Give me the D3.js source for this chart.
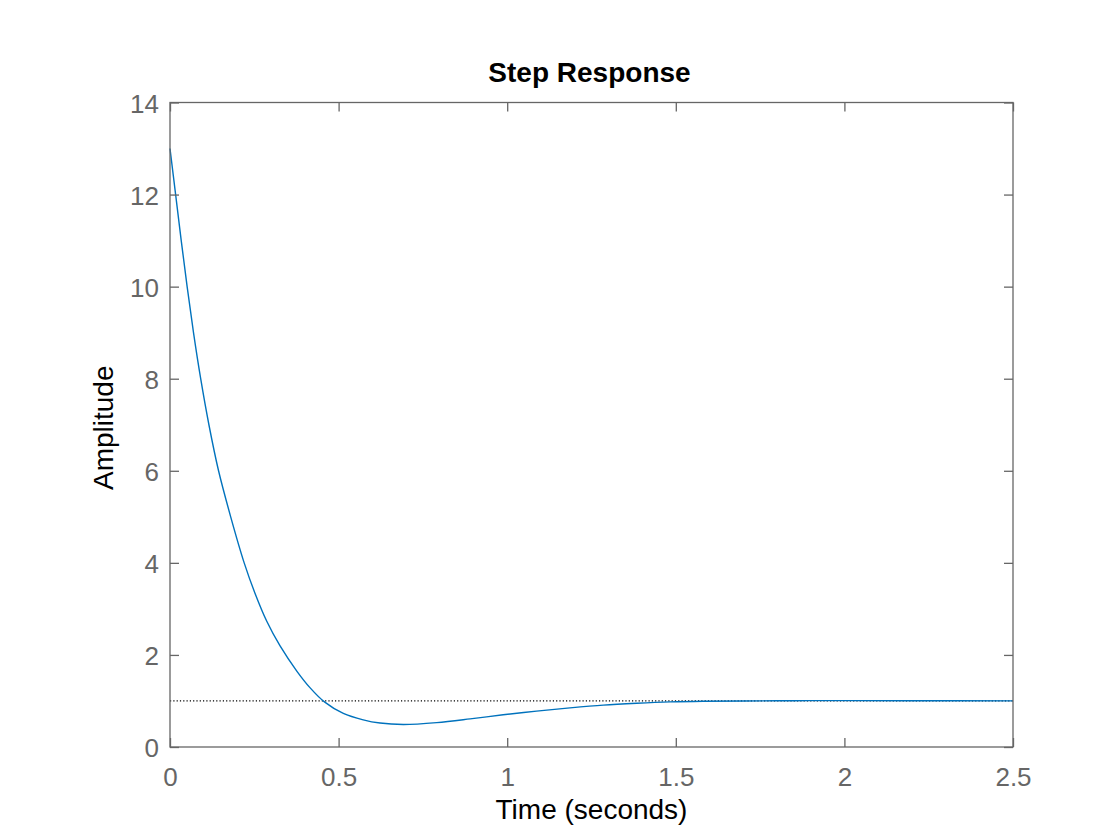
<!DOCTYPE html>
<html>
<head>
<meta charset="utf-8">
<script src="https://cdn.jsdelivr.net/npm/d3@7"></script>
<style>
    body { margin: 0; background: #ffffff; }
    svg text { font-family: "Liberation Sans", Arial, Helvetica, sans-serif; }
</style>
</head>
<body>
<svg id="chart" width="1120" height="840"></svg>
<script>

// readings off the step response
var time      = [0, 0.0167, 0.0333, 0.0508, 0.0697, 0.091, 0.1154, 0.144, 0.180, 0.220, 0.252, 0.287, 0.326, 0.376, 0.415, 0.458, 0.514, 0.573, 0.623, 0.692, 0.791, 0.890, 0.988, 1.087, 1.186, 1.285, 1.384, 1.483, 1.580, 1.700, 1.850, 2.000, 2.200, 2.500];
var amplitude = [13, 12, 11, 10, 9, 8, 7, 6, 5, 4, 3.34, 2.73, 2.20, 1.65, 1.29, 0.98, 0.73, 0.59, 0.52, 0.49, 0.53, 0.61, 0.70, 0.78, 0.85, 0.91, 0.95, 0.98, 0.995, 1.0, 1.005, 1.008, 1.006, 1.002];

var steadyState = 1;

var xTicks = [0, 0.5, 1, 1.5, 2, 2.5];
var xTickLabels = ["0", "0.5", "1", "1.5", "2", "2.5"];
var yTicks = [0, 2, 4, 6, 8, 10, 12, 14];

var titleText = "Step Response";
var xLabel = "Time (seconds)";
var yLabel = "Amplitude";

var svg = d3.select("#chart");

var plotLeft = 170, plotRight = 1013, plotTop = 102.5, plotBottom = 747;

var x = d3.scaleLinear().domain([0, 2.5]).range([plotLeft, plotRight]);
var y = d3.scaleLinear().domain([0, 14]).range([plotBottom, plotTop]);

var grey = "#666666";

var points = time.map(function (t, i) { return { t: t, a: amplitude[i] }; });

// steady state reference
svg.append("line")
    .attr("x1", x(0)).attr("x2", x(2.5))
    .attr("y1", y(steadyState)).attr("y2", y(steadyState))
    .attr("stroke", "#000000")
    .attr("stroke-width", 1.2)
    .attr("stroke-dasharray", "1.2,2.1");

var line = d3.line()
    .x(function (d) { return x(d.t); })
    .y(function (d) { return y(d.a); })
    .curve(d3.curveCatmullRom.alpha(0.5));

svg.append("path")
    .datum(points)
    .attr("d", line)
    .attr("fill", "none")
    .attr("stroke", "#0072BD")
    .attr("stroke-width", 1.4);

// box
svg.append("rect")
    .attr("x", plotLeft).attr("y", plotTop)
    .attr("width", plotRight - plotLeft).attr("height", plotBottom - plotTop)
    .attr("fill", "none")
    .attr("stroke", grey)
    .attr("stroke-width", 1.3);

var tickLen = 9;

// ticks pointing inward on all four sides
var xAxisBottom = d3.axisBottom(x).tickValues(xTicks).tickSizeInner(-tickLen).tickSizeOuter(0)
    .tickFormat(function (d, i) { return xTickLabels[i]; });
var xAxisTop = d3.axisTop(x).tickValues(xTicks).tickSizeInner(-tickLen).tickSizeOuter(0).tickFormat("");
var yAxisLeft = d3.axisLeft(y).tickValues(yTicks).tickSizeInner(-tickLen).tickSizeOuter(0);
var yAxisRight = d3.axisRight(y).tickValues(yTicks).tickSizeInner(-tickLen).tickSizeOuter(0).tickFormat("");

function styleAxis(g) {
    g.select(".domain").remove();
    g.selectAll(".tick line").attr("stroke", grey).attr("stroke-width", 1.3);
    g.selectAll(".tick text")
        .attr("fill", grey)
        .style("font-size", "26px");
}

svg.append("g").attr("transform", "translate(0," + plotBottom + ")").call(xAxisBottom).call(styleAxis)
    .selectAll(".tick text").attr("dy", null).attr("y", 39);
svg.append("g").attr("transform", "translate(0," + plotTop + ")").call(xAxisTop).call(styleAxis);
svg.append("g").attr("transform", "translate(" + plotLeft + ",0)").call(yAxisLeft).call(styleAxis)
    .selectAll(".tick text").attr("dy", null).attr("x", -11).attr("y", 9.5);
svg.append("g").attr("transform", "translate(" + plotRight + ",0)").call(yAxisRight).call(styleAxis);

// labels
svg.append("text")
    .attr("x", (plotLeft + plotRight) / 2 - 2)
    .attr("y", 82)
    .attr("text-anchor", "middle")
    .style("font-size", "28px")
    .style("font-weight", "bold")
    .attr("fill", "#000000")
    .text(titleText);

svg.append("text")
    .attr("x", (plotLeft + plotRight) / 2)
    .attr("y", 819)
    .attr("text-anchor", "middle")
    .style("font-size", "28px")
    .attr("fill", "#000000")
    .text(xLabel);

svg.append("text")
    .attr("transform", "translate(113," + ((plotTop + plotBottom) / 2 + 3) + ") rotate(-90)")
    .attr("text-anchor", "middle")
    .style("font-size", "28px")
    .attr("fill", "#000000")
    .text(yLabel);

</script>
</body>
</html>
